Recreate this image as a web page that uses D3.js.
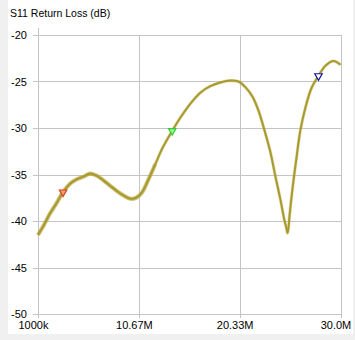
<!DOCTYPE html>
<html><head><meta charset="utf-8">
<script src="https://cdn.jsdelivr.net/npm/d3@7/dist/d3.min.js"></script>
<style>
html,body{margin:0;padding:0;background:#f0f0f0;}
svg{display:block;}
text{font-family:"Liberation Sans","DejaVu Sans",sans-serif;font-size:11px;fill:#000;}
</style></head>
<body>
<svg id="c" width="355" height="340"></svg>
<script>
// Data (frequency in MHz, S11 in dB)
const freqMHz = [1.0,1.58,2.15,2.82,3.40,4.07,4.74,5.42,6.0,6.57,7.24,7.91,8.59,9.26,9.83,10.41,10.99,11.56,12.24,12.91,13.87,14.64,15.6,16.56,17.52,18.48,19.44,20.21,20.88,21.55,22.13,22.7,23.28,23.76,24.24,24.62,24.82,24.91,25.0,25.1,25.39,25.78,26.16,26.64,27.22,27.89,28.56,29.33,30.0];
const s11dB = [-41.5,-40.4,-39.2,-38.0,-36.9,-36.0,-35.5,-35.2,-34.9,-35.1,-35.6,-36.2,-36.8,-37.3,-37.6,-37.5,-36.9,-35.6,-33.9,-32.2,-30.3,-28.9,-27.4,-26.2,-25.5,-25.1,-24.9,-25.0,-25.6,-26.6,-28.1,-30.2,-32.6,-35.2,-37.7,-39.9,-40.8,-41.3,-40.9,-39.6,-36.6,-33.2,-30.2,-27.8,-25.7,-24.4,-23.3,-22.8,-23.2];
const markerFreq = [3.40, 13.87, 27.89];
const markerDB = [-36.9, -30.3, -24.4];
const markerStroke = ["#d8401a", "#30d030", "#1010a0"];
const markerFill = ["#f4a070", "#a0f0a0", "#ffffff"];
const xTickValues = [1, 10.67, 20.33, 30];
const xTickLabels = ["1000k", "10.67M", "20.33M", "30.0M"];
const yTickValues = [-20, -25, -30, -35, -40, -45, -50];
const title = "S11 Return Loss (dB)";

const svg = d3.select("#c");
// white panel
svg.append("rect").attr("x",8).attr("y",0).attr("width",345).attr("height",334).attr("fill","#ffffff");

const x = d3.scaleLinear().domain([1,30]).range([38,340.5]);
const y = d3.scaleLinear().domain([-50,-20]).range([314,35]);

const grid = svg.append("g").attr("stroke","#c4c4c4").attr("stroke-width",1).attr("shape-rendering","crispEdges");
grid.selectAll("line.h").data(yTickValues).enter().append("line")
  .attr("x1",33).attr("x2",x(30)).attr("y1",d=>Math.round(y(d))+0.5).attr("y2",d=>Math.round(y(d))+0.5);
grid.selectAll("line.v").data(xTickValues).enter().append("line")
  .attr("x1",d=>Math.round(x(d))+0.5).attr("x2",d=>Math.round(x(d))+0.5)
  .attr("y1",(d,i)=> i===0 ? 28 : y(-20)).attr("y2",318);

svg.selectAll("text.yl").data(yTickValues).enter().append("text")
  .attr("x",27).attr("y",d=>y(d)+4).attr("text-anchor","end").text(d=>d);
svg.selectAll("text.xl").data(xTickValues).enter().append("text")
  .attr("x",d=>x(d)-4.5).attr("y",329).attr("text-anchor","middle").text((d,i)=>xTickLabels[i]);
svg.append("text").attr("x",10).attr("y",17).style("font-size","10.5px").text(title);

const pts = freqMHz.map((f,i)=>[f,s11dB[i]]);
const line = d3.line().x(d=>x(d[0])).y(d=>y(d[1])).curve(d3.curveCatmullRom.alpha(0.5));
// noisier, thicker low-frequency part of the trace
svg.append("path").attr("d",line(pts.filter(p=>p[0]<=12.3))).attr("fill","none").attr("stroke","#b0a23a").attr("stroke-opacity",0.55).attr("stroke-width",4.2).attr("stroke-linejoin","round");
svg.append("path").attr("d",line(pts)).attr("fill","none").attr("stroke","#bcb050").attr("stroke-opacity",0.45).attr("stroke-width",3.2).attr("stroke-linejoin","round");
svg.append("path").attr("d",line(pts)).attr("fill","none").attr("stroke","#a89a2c").attr("stroke-width",2).attr("stroke-linejoin","round");

const tri = d3.symbol().type(d3.symbolTriangle).size(24);
svg.selectAll("path.m").data(markerFreq).enter().append("path")
  .attr("d",tri)
  .attr("transform",(d,i)=>`translate(${x(d)},${y(markerDB[i])}) rotate(180)`)
  .attr("fill",(d,i)=>markerFill[i]).attr("stroke",(d,i)=>markerStroke[i]).attr("stroke-width",1.2);
</script>
</body></html>
